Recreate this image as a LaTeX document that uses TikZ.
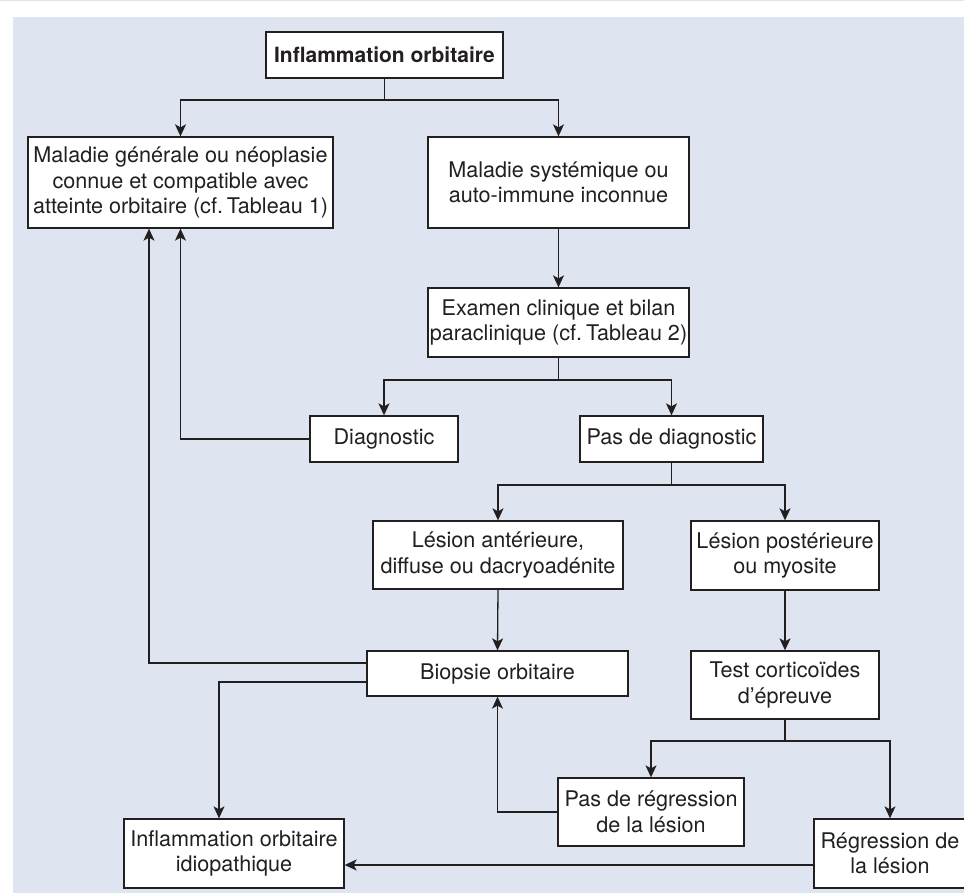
\documentclass[tikz,border=0pt]{standalone}
\usepackage{fontspec}
\setmainfont{TeX Gyre Heros}
\usetikzlibrary{arrows.meta}
\definecolor{bgblue}{RGB}{223,228,241}
\definecolor{ink}{RGB}{35,31,32}
\frenchspacing
\newcommand{\cfsp}{cf.\hspace{0.18em}}
\tikzset{
  box/.style={draw=ink, fill=white, line width=1.3pt, align=center, inner sep=0pt,
    text=ink, font=\fontsize{21.6}{25.5}\selectfont},
  link/.style={draw=ink, line width=1.3pt},
  arr/.style={link, -{Stealth[length=12pt,width=11pt,inset=3pt]}}
}
\begin{document}
\begin{tikzpicture}[x=1pt,y=-1pt]
\useasboundingbox (0,0) rectangle (964,893);
\fill[bgblue] (0,0) rectangle (964,1.5);
\fill[bgblue] (13,17) rectangle (964,893);

\node[box, minimum width=237pt, minimum height=46pt, font=\fontsize{21}{25.5}\selectfont\bfseries] (top) at (384.5,55) {Inflammation orbitaire};
\node[box, minimum width=305pt, minimum height=91pt] (mg) at (180.5,182.5) {Maladie générale ou néoplasie\\connue et compatible avec\\atteinte orbitaire (\cfsp Tableau 1)};
\node[box, minimum width=261pt, minimum height=91pt] (ms) at (558.5,182.5) {Maladie systémique ou\\auto-immune inconnue};
\node[box, minimum width=261pt, minimum height=69pt] (ex) at (558.5,322.5) {Examen clinique et bilan\\paraclinique (\cfsp Tableau 2)};
\node[box, minimum width=148pt, minimum height=46pt] (diag) at (384,439) {Diagnostic};
\node[box, minimum width=183pt, minimum height=46pt] (pdd) at (671.5,439) {Pas de diagnostic};
\node[box, minimum width=250pt, minimum height=68pt] (la) at (498,555) {Lésion antérieure,\\diffuse ou dacryoadénite};
\node[box, minimum width=188pt, minimum height=69pt] (lp) at (785,555.5) {Lésion postérieure\\ou myosite};
\node[box, minimum width=261pt, minimum height=45pt] (bio) at (497.5,673.5) {Biopsie orbitaire};
\node[box, minimum width=188pt, minimum height=68pt] (test) at (785,685) {Test corticoïdes\\d’épreuve};
\node[box, minimum width=186pt, minimum height=68pt] (pdr) at (651,812) {Pas de régression\\de la lésion};
\node[box, minimum width=220pt, minimum height=69pt] (idio) at (234,853.5) {Inflammation orbitaire\\idiopathique};
\node[box, minimum width=152pt, minimum height=69pt] (reg) at (890,853.5) {Régression de\\la lésion};

% top split
\coordinate (j1) at (384.5,100);
\draw[link] (top.south) -- (j1);
\draw[arr] (j1) -| (mg.north);
\draw[arr] (j1) -| (ms.north);
\draw[arr] (ms.south) -- (ex.north);

% examen split
\coordinate (j2) at (558.5,380);
\draw[link] (ex.south) -- (j2);
\draw[arr] (j2) -| (diag.north);
\draw[arr] (j2) -| (pdd.north);

% diagnostic back to mg
\draw[arr] (diag.west) -| (mg.south);

% pas de diagnostic split
\coordinate (j3) at (671.5,485);
\draw[link] (pdd.south) -- (j3);
\draw[arr] (j3) -| (la.north);
\draw[arr] (j3) -| (lp.north);

\draw[arr] (la.south) -- (bio.north);
\draw[arr] (lp.south) -- (test.north);

% biopsie outputs
\draw[arr] ([yshift=10.5pt]bio.west) -| ([xshift=-31.5pt]mg.south);
\draw[arr] ([yshift=-8.5pt]bio.west) -| ([xshift=-15pt]idio.north);

% test split
\coordinate (j4) at (785,741);
\draw[link] (test.south) -- (j4);
\draw[arr] (j4) -| (pdr.north);
\draw[arr] (j4) -| (reg.north);

\draw[arr] (pdr.west) -| (bio.south);
\draw[arr] ([yshift=-11.5pt]reg.west) -- ([yshift=-11.5pt]reg.west -| idio.east);
\end{tikzpicture}
\end{document}
